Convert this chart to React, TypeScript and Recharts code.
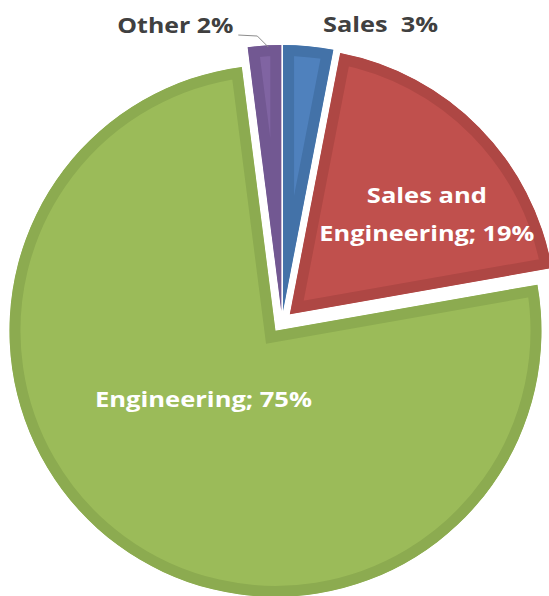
import React from 'react';
import { PieChart, Pie, Sector } from 'recharts';

// ---- data ----
const names = ['Sales', 'Sales and Engineering', 'Engineering', 'Other'];
const values = [3, 19, 75, 2];
const labelLines: string[][] = [
  ['Sales  3%'],
  ['Sales and', 'Engineering; 19%'],
  ['Engineering; 75%'],
  ['Other 2%'],
];

// ---- styles ----
const fills = ['#4F81BD', '#C0504D', '#9BBB59', '#8064A2'];
const borders = ['#4372A8', '#AE4744', '#8CAB50', '#725892'];
const labelColors = ['#404040', '#FFFFFF', '#FFFFFF', '#404040'];
const labelWidths = [115, [120, 215], 217, 116] as any[];
// label layout relative to each exploded slice apex: dx, dy(first baseline), anchor, line gap
const labelLayout = [
  { dx: 40, dy: -279, anchor: 'start' },
  { dx: 137, dy: -111, anchor: 'middle', gap: 38 },
  { dx: -72, dy: 76, anchor: 'middle' },
  { dx: -48, dy: -278, anchor: 'end' },
];

const EXPLODE = 11;
const BORDER = 11;
const FONT = '"Open Sans", "Liberation Sans", sans-serif';

const data = names.map((n, i) => ({ name: n, value: values[i], fill: fills[i] }));

function idxOf(props: any): number {
  if (typeof props.index === 'number') return props.index;
  const n = props.name ?? props.payload?.name;
  return names.indexOf(n);
}

function offset(midAngle: number) {
  const r = (-midAngle * Math.PI) / 180;
  return { dx: EXPLODE * Math.cos(r), dy: EXPLODE * Math.sin(r) };
}

function ExplodedSector(props: any) {
  const { cx, cy, innerRadius, outerRadius, startAngle, endAngle, midAngle } = props;
  const i = idxOf(props);
  const { dx, dy } = offset(midAngle);
  const id = `slice-clip-${i}`;
  const common = { cx: cx + dx, cy: cy + dy, innerRadius, outerRadius, startAngle, endAngle };
  return (
    <g>
      <defs>
        <clipPath id={id}>
          <Sector {...common} />
        </clipPath>
      </defs>
      <Sector
        {...common}
        fill={fills[i]}
        stroke={borders[i]}
        strokeWidth={BORDER * 2}
        strokeLinejoin="miter"
        clipPath={`url(#${id})`}
      />
    </g>
  );
}

function SliceLabel(props: any) {
  const { cx, cy, midAngle } = props;
  const i = idxOf(props);
  if (i < 0) return null;
  const { dx, dy } = offset(midAngle);
  const ax = cx + dx;
  const ay = cy + dy;
  const lay = labelLayout[i];
  const lines = labelLines[i];
  const widths = Array.isArray(labelWidths[i]) ? labelWidths[i] : [labelWidths[i]];
  return (
    <g>
      {lines.map((t, k) => (
        <text
          key={k}
          x={ax + lay.dx}
          y={ay + lay.dy + k * ((lay as any).gap || 0)}
          textAnchor={lay.anchor as any}
          fill={labelColors[i]}
          fontFamily={FONT}
          fontWeight={700}
          fontSize={22}
          textLength={widths[k]}
          lengthAdjust="spacingAndGlyphs"
          style={{ whiteSpace: 'pre' }}
        >
          {t}
        </text>
      ))}
      {i === 3 && (
        <polyline
          points={`${ax - 43},${ay - 276} ${ax - 24},${ay - 275} ${ax - 13},${ay - 264}`}
          fill="none"
          stroke="#8C8C8C"
          strokeWidth={1}
        />
      )}
    </g>
  );
}

export default function App() {
  return (
    <div style={{ width: 549, height: 596, background: '#fff' }}>
      <style>{`body{margin:0;}`}</style>
      <PieChart width={549} height={596} margin={{ top: 0, right: 0, bottom: 0, left: 0 }}>
        <Pie
          data={data}
          dataKey="value"
          nameKey="name"
          cx={282}
          cy={322}
          innerRadius={0}
          outerRadius={266}
          startAngle={90}
          endAngle={-270}
          stroke="none"
          isAnimationActive={false}
          shape={ExplodedSector as any}
          label={SliceLabel as any}
          labelLine={false}
        />
      </PieChart>
    </div>
  );
}
